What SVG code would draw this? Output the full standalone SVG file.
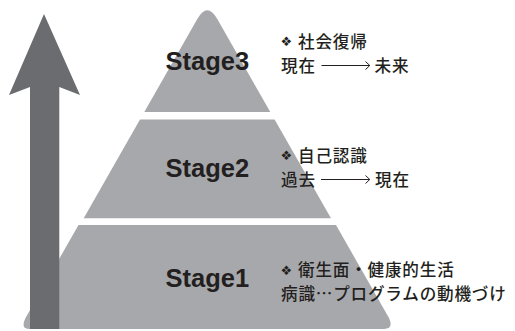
<svg xmlns="http://www.w3.org/2000/svg" width="515" height="331" viewBox="0 0 515 331">
<style>
.tier{fill:#a7a8ab}
.stage{font-family:"Liberation Sans",Arial,sans-serif;font-weight:bold;font-size:25.5px;fill:#231f20}
.jp{font-family:"Noto Sans CJK JP",sans-serif;font-size:16.6px;letter-spacing:0.8px;font-weight:500;fill:#231f20}
.bul{font-family:"DejaVu Sans",sans-serif;font-size:13px;letter-spacing:0}
.arr{fill:none;stroke:#231f20;stroke-width:1}
</style>
<rect width="515" height="331" fill="#ffffff"/>
<g id="stage3">
<path class="tier" d="M144.3,112 L197.3,19 Q207.3,1.5 217.3,19 L270.3,112 Z"/>
<text class="stage" x="165.5" y="70">Stage3</text>
<text class="jp"><tspan class="bul" x="280.5" y="46">❖</tspan><tspan x="298" y="47.5">社会復帰</tspan><tspan x="281" y="71.5">現在</tspan><tspan x="374.5" y="71.5">未来</tspan></text>
<path class="arr" d="M321.5,65.5 H369.5 M365.5,61.5 L369.8,65.5 L365.5,69.5"/>
</g>
<g id="stage2">
<path class="tier" d="M140,119.5 L274.6,119.5 L331,218.3 L83.7,218.3 Z"/>
<text class="stage" x="165.5" y="177">Stage2</text>
<text class="jp"><tspan class="bul" x="280.5" y="160">❖</tspan><tspan x="298" y="161.5">自己認識</tspan><tspan x="281" y="185.5">過去</tspan><tspan x="375" y="185.5">現在</tspan></text>
<path class="arr" d="M321,179.5 H369.5 M365.5,175.5 L369.8,179.5 L365.5,183.5"/>
</g>
<g id="stage1">
<path class="tier" d="M78.5,225 L336,225 L389,318 Q394,329 384,329 L30,329 Q20,329 25.5,318 Z"/>
<text class="stage" x="165.5" y="287">Stage1</text>
<text class="jp"><tspan class="bul" x="280.5" y="274.5">❖</tspan><tspan x="298" y="275.5">衛生面・健康的生活</tspan><tspan x="281" y="299.5">病識…プログラムの動機づけ</tspan></text>
</g>
<g id="connectors">
<path d="M44,14 L80,95 L59.3,87 L59.3,329 L30,329 L30,87 L9,95 Z" fill="#6b6c70"/>
</g>
</svg>
